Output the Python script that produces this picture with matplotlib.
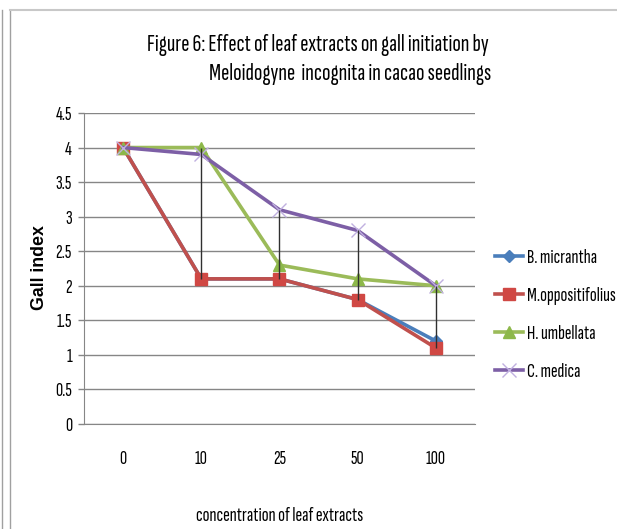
import matplotlib
matplotlib.use("Agg")
import matplotlib.pyplot as plt
from matplotlib import font_manager as fm
import numpy as np

categories = ["0", "10", "25", "50", "100"]
b_micrantha = [4.0, 2.1, 2.1, 1.8, 1.2]
m_oppositifolius = [4.0, 2.1, 2.1, 1.8, 1.1]
h_umbellata = [4.0, 4.0, 2.3, 2.1, 2.0]
c_medica = [4.0, 3.9, 3.1, 2.8, 2.0]
series_names = ["B. micrantha", "M.oppositifolius", "H. umbellata", "C. medica"]
yticks = [0, 0.5, 1, 1.5, 2, 2.5, 3, 3.5, 4, 4.5]
title1 = "Figure 6: Effect of leaf extracts on gall initiation by"
title2 = "Meloidogyne  incognita in cacao seedlings"
xlabel = "concentration of leaf extracts"
ylabel = "Gall index"

available = {f.name for f in fm.fontManager.ttflist}
FONT = next(f for f in ['Sofia Sans Extra Condensed', 'Pathway Gothic One', 'Saira Extra Condensed',
                        'Encode Sans Compressed', 'Fira Sans Extra Condensed', 'Barlow Condensed', 'DejaVu Sans']
            if f in available)
plt.rcParams['font.family'] = [FONT, 'DejaVu Sans']
plt.rcParams['font.weight'] = 500

W, H = 617, 529
fig = plt.figure(figsize=(W / 100, H / 100), dpi=100)
renderer = fig.canvas.get_renderer()


def extent(text, fs, **kw):
    t = fig.text(0, 0, text, fontsize=fs, **kw)
    bb = t.get_window_extent(renderer)
    t.remove()
    return bb.width, bb.height


def size_for(text, target_px, **kw):
    return 10 * target_px / extent(text, 10, **kw)[0]


tick_fs = size_for("100", 20)
leg_fs = size_for("B. micrantha", 70)
leg_text_h_pt = extent("B. micrantha", leg_fs)[1] * 0.72

ax = fig.add_axes([84 / W, 1 - 424 / H, (475 - 84) / W, (424 - 113) / H])

x = np.arange(len(categories))
allv = np.array([b_micrantha, m_oppositifolius, h_umbellata, c_medica])
ax.vlines(x, allv.min(axis=0), allv.max(axis=0), color='#303030', lw=1.0, zorder=5)

styles = [
    dict(color='#4A7EBB', marker='D', ms=6, mfc='#4A7EBB', mec='#4A7EBB'),
    dict(color='#C0504D', marker='s', ms=9, mfc='#D04844', mec='#D04844'),
    dict(color='#9BBB59', marker='^', ms=9, mfc='#8DB84A', mec='#8DB84A'),
    dict(color='#7D5FA6', marker='x', ms=10, mfc='none', mec='#C0B0E0', mew=1.0),
]
for vals, name, st in zip(allv, series_names, styles):
    ax.plot(x, vals, lw=2.6, label=name, zorder=4, **st)

ax.set_xlim(-0.5, len(categories) - 0.5)
ax.set_ylim(0, 4.5)
ax.set_yticks(yticks)
ax.set_yticklabels([f"{t:g}" for t in yticks], fontsize=tick_fs)
ax.set_xticks(x)
ax.set_xticklabels(categories, fontsize=tick_fs)
ax.tick_params(axis='x', length=0, pad=19)
ax.tick_params(axis='y', length=4.3, width=1, color='#868686', pad=4.3, direction='out')
ax.grid(axis='y', color='#868686', lw=1.0)
ax.set_axisbelow(True)
for s in ['top', 'right']:
    ax.spines[s].set_visible(False)
ax.spines['left'].set_color('#868686')
ax.spines['bottom'].set_color('#868686')

yl_fs = size_for(ylabel, 85, fontweight='bold', family=['Liberation Sans', 'DejaVu Sans'])
fig.text(40 / W, 1 - 268 / H, ylabel, rotation=90, ha='center', va='center',
         fontsize=yl_fs, fontweight='bold', family=['Liberation Sans', 'DejaVu Sans'])
fig.text(280 / W, 1 - 516 / H, xlabel, ha='center', va='center', fontsize=size_for(xlabel, 167))
fig.text(318 / W, 1 - 45 / H, title1, ha='center', va='center', fontsize=size_for(title1, 340))
fig.text(350 / W, 1 - 74 / H, title2, ha='center', va='center', fontsize=size_for(title2, 280))

px2pt = 0.72
leg = ax.legend(loc='center left', bbox_to_anchor=(495 / W, 1 - 315 / H), bbox_transform=fig.transFigure,
                frameon=False, fontsize=leg_fs,
                handlelength=28 * px2pt / leg_fs, handletextpad=4 * px2pt / leg_fs,
                labelspacing=max(0.1, (38 * px2pt - leg_text_h_pt) / leg_fs),
                borderaxespad=0, borderpad=0)

# outer frame lines
fig.add_artist(plt.Line2D([2 / W, 2 / W], [0, 1 - 10 / H], color='#A0A0A0', lw=1.0, transform=fig.transFigure))
fig.add_artist(plt.Line2D([10.5 / W, 10.5 / W], [0, 1 - 10 / H], color='#A0A0A0', lw=1.0, transform=fig.transFigure))
fig.add_artist(plt.Line2D([10 / W, 1], [1 - 10 / H, 1 - 10 / H], color='#C8C8C8', lw=1.5, transform=fig.transFigure))

fig.savefig("out.png", dpi=100)
